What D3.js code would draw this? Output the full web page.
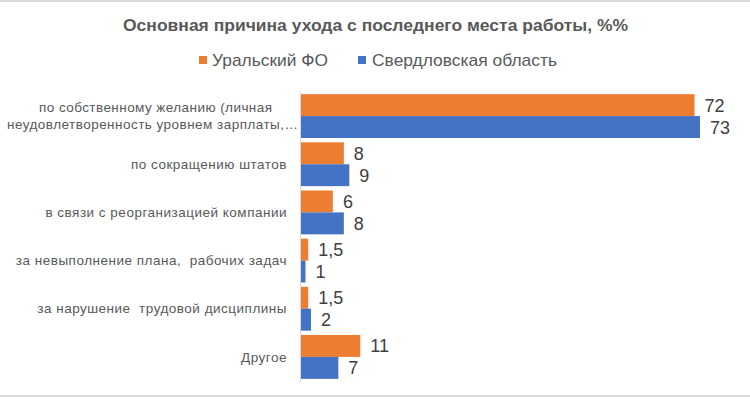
<!DOCTYPE html>
<html><head><meta charset="utf-8">
<script src="https://cdn.jsdelivr.net/npm/d3@7"></script>
<style>body{margin:0;background:#fff;} svg{display:block;font-family:"Liberation Sans",Arial,sans-serif;}</style>
</head><body>
<svg id="c" width="750" height="400"></svg>
<script>
const title = "Основная причина ухода с последнего места работы, %%";
const categories = [
  ["по собственному желанию (личная", "неудовлетворенность уровнем зарплаты,…"],
  ["по сокращению штатов"],
  ["в связи с реорганизацией компании"],
  ["за невыполнение плана,  рабочих задач"],
  ["за нарушение  трудовой дисциплины"],
  ["Другое"]
];
const seriesNames = ["Уральский ФО", "Свердловская область"];
const uralValues = [72, 8, 6, 1.5, 1.5, 11];
const sverdValues = [73, 9, 8, 1, 2, 7];
const colors = ["#ED7D31", "#4472C4"];

const svg = d3.select("#c");
const fmt = v => String(v).replace(".", ",");

// frame lines
svg.append("line").attr("x1",0).attr("x2",750).attr("y1",1).attr("y2",1).attr("stroke","#d9d9d9").attr("stroke-width",2);
svg.append("line").attr("x1",0).attr("x2",750).attr("y1",396).attr("y2",396).attr("stroke","#d9d9d9").attr("stroke-width",2);

svg.append("text").attr("x",123).attr("y",30.5)
  .attr("font-size",17).attr("font-weight","bold").attr("fill","#595959")
  .attr("textLength",505).attr("lengthAdjust","spacingAndGlyphs").text(title);

// legend
const legend = [{x:199, tx:212, w:116},{x:358, tx:372, w:185}];
seriesNames.forEach((n,i)=>{
  svg.append("rect").attr("x",legend[i].x).attr("y",56).attr("width",8).attr("height",8).attr("fill",colors[i]);
  svg.append("text").attr("x",legend[i].tx).attr("y",65.5).attr("font-size",17).attr("fill","#595959")
    .attr("textLength",legend[i].w).attr("lengthAdjust","spacingAndGlyphs").text(n);
});

const idx = categories.map((d,i)=>i);
const y = d3.scaleBand().domain(idx).range([92,381]).paddingInner(0.09).paddingOuter(0.045);
const x = d3.scaleLinear().domain([0,73]).range([300,700]);
const sub = d3.scaleBand().domain([0,1]).range([0,y.bandwidth()]);

const data = [uralValues, sverdValues];
data.forEach((vals,s)=>{
  const g = svg.append("g");
  g.selectAll("rect").data(vals).join("rect")
    .attr("x",x(0)).attr("y",(d,i)=>y(i)+sub(s))
    .attr("width",d=>x(d)-x(0)).attr("height",sub.bandwidth())
    .attr("fill",colors[s]);
  g.selectAll("text").data(vals).join("text")
    .attr("x",d=>x(d)+10).attr("y",(d,i)=>y(i)+sub(s)+sub.bandwidth()/2)
    .attr("dy","0.36em").attr("font-size",18).attr("fill","#404040").text(fmt);
});

// axis line
svg.append("line").attr("x1",300.5).attr("x2",300.5).attr("y1",91).attr("y2",382).attr("stroke","#d9d9d9").attr("stroke-width",1);

// category labels
categories.forEach((lines,i)=>{
  const cy = y(i)+y.bandwidth()/2;
  if(lines.length>1){
    const lx = [{x:39, w:233},{x:7, w:291}];
    lines.forEach((l,j)=>{
      svg.append("text").attr("x",lx[j].x).attr("y",cy+(j-0.5)*17).attr("dy","0.35em")
        .attr("font-size",13.5).attr("fill","#595959")
        .attr("textLength",lx[j].w).attr("lengthAdjust","spacing").text(l);
    });
  } else {
    svg.append("text").attr("x",287).attr("y",cy).attr("dy","0.35em")
      .attr("text-anchor","end").attr("font-size",13.5).attr("fill","#595959")
      .attr("letter-spacing",0.5).style("white-space","pre").text(lines[0]);
  }
});
</script>
</body></html>
